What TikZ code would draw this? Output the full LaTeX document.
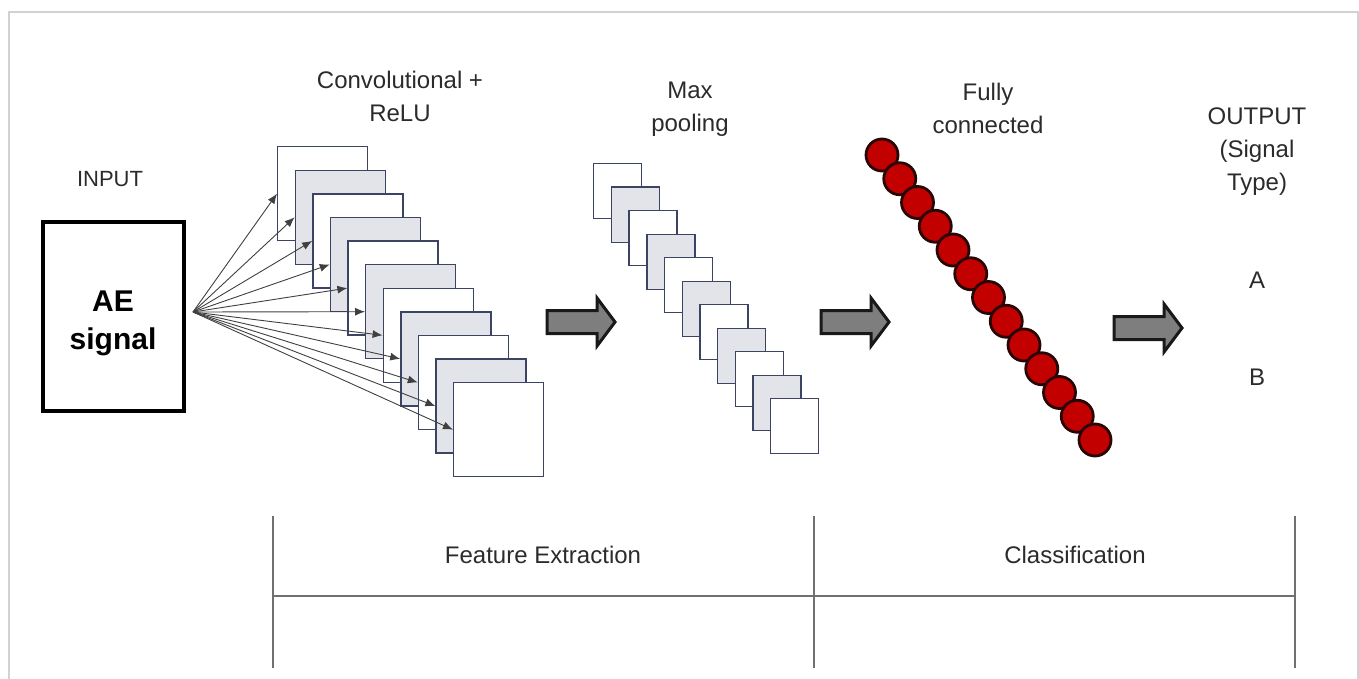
\documentclass[tikz,border=0pt]{standalone}
\usepackage{fontspec}
\setmainfont{Liberation Sans}
\usetikzlibrary{arrows.meta}
\definecolor{sqedge}{HTML}{3B4463}
\definecolor{sqgray}{HTML}{E3E4E9}
\definecolor{txt}{HTML}{2B2B2B}
\definecolor{nred}{HTML}{C20000}
\definecolor{nedge}{HTML}{2A0505}
\definecolor{framec}{HTML}{D2D2D2}
\definecolor{axisc}{HTML}{707070}
\definecolor{arrgray}{HTML}{7E7E7E}
\begin{document}
\begin{tikzpicture}[x=1pt,y=-1pt,
  lbl/.style={text=txt, align=center, font=\fontsize{24}{33}\selectfont, inner sep=0pt},
  sq/.style={draw=sqedge, line width=1.4pt, anchor=north west, inner sep=0pt},
  neuron/.style={circle, draw=nedge, line width=2.8pt, fill=nred, minimum size=32pt, inner sep=0pt},
  fanarrow/.style={draw=black!75, line width=0.9pt, -{Latex[length=10pt,width=8pt]}},
  axisline/.style={draw=axisc, line width=1.5pt},
  blockarrow/.pic={\draw[line width=3pt, draw=black!90, fill=arrgray, line join=miter]
     (-68,-11.5) -- (-18,-11.5) -- (-18,-24) -- (0,0) -- (-18,24) -- (-18,11.5) -- (-68,11.5) -- cycle;}
]
\useasboundingbox (0,0) rectangle (1359,679);
% outer frame
\draw[framec, line width=1.5pt] (9,679) -- (9,12) -- (1358,12) -- (1358,679);

% input
\node[lbl, font=\fontsize{22}{26}\selectfont] (inputlbl) at (110,179) {INPUT};
\node[draw=black, line width=3.3pt, minimum width=141pt, minimum height=189pt, inner sep=0pt] (inbox) at (113.5,316.5) {};
\node[lbl, font=\bfseries\fontsize{30}{38}\selectfont, text=black] (intext) at (113,323) {AE\\signal};

% conv layers
\node[lbl] (convlbl) at (400,96) {Convolutional +\\ReLU};
\foreach \i in {0,...,10} {
  \ifodd\i \def\fc{sqgray}\else\def\fc{white}\fi
  \node[sq, fill=\fc, minimum width=90pt, minimum height=94pt] (c\i) at (277+17.6*\i,146+23.6*\i) {};
}
\coordinate (fan) at (193,312);
\foreach \i in {0,...,10} {
  \draw[fanarrow] (fan) -- (c\i.west);
}

% max pooling
\node[lbl] (poollbl) at (690,109) {Max\\pooling};
\foreach \i in {0,...,10} {
  \ifodd\i \def\fc{sqgray}\else\def\fc{white}\fi
  \node[sq, fill=\fc, minimum width=48pt, minimum height=55pt] (p\i) at (593+17.7*\i,163+23.5*\i) {};
}

% fully connected
\node[lbl] (fclbl) at (988,108) {Fully\\connected};
\foreach \i in {0,...,12} {
  \node[neuron] (n\i) at (882+17.75*\i,155+23.75*\i) {};
}

% output
\node[lbl] (outlbl) at (1257,151.5) {OUTPUT\\(Signal\\Type)};
\node[lbl] (outA) at (1257,280) {A};
\node[lbl] (outB) at (1257,377) {B};

% block arrows
\pic at (615,322) {blockarrow};
\pic at (889,322) {blockarrow};
\pic at (1182,328) {blockarrow};

% bottom brackets
\coordinate (v1t) at (273,516); \coordinate (v1b) at (273,668);
\coordinate (v2t) at (814,516); \coordinate (v2b) at (814,668);
\coordinate (v3t) at (1295,516); \coordinate (v3b) at (1295,668);
\coordinate (hl) at (273,596); \coordinate (hr) at (1295,596);
\draw[axisline] (v1t) -- (v1b);
\draw[axisline] (v2t) -- (v2b);
\draw[axisline] (v3t) -- (v3b);
\draw[axisline] (hl) -- (hr);
\node[lbl] (felbl) at (543,555) {Feature Extraction};
\node[lbl] (clslbl) at (1075,555) {Classification};
\end{tikzpicture}
\end{document}
